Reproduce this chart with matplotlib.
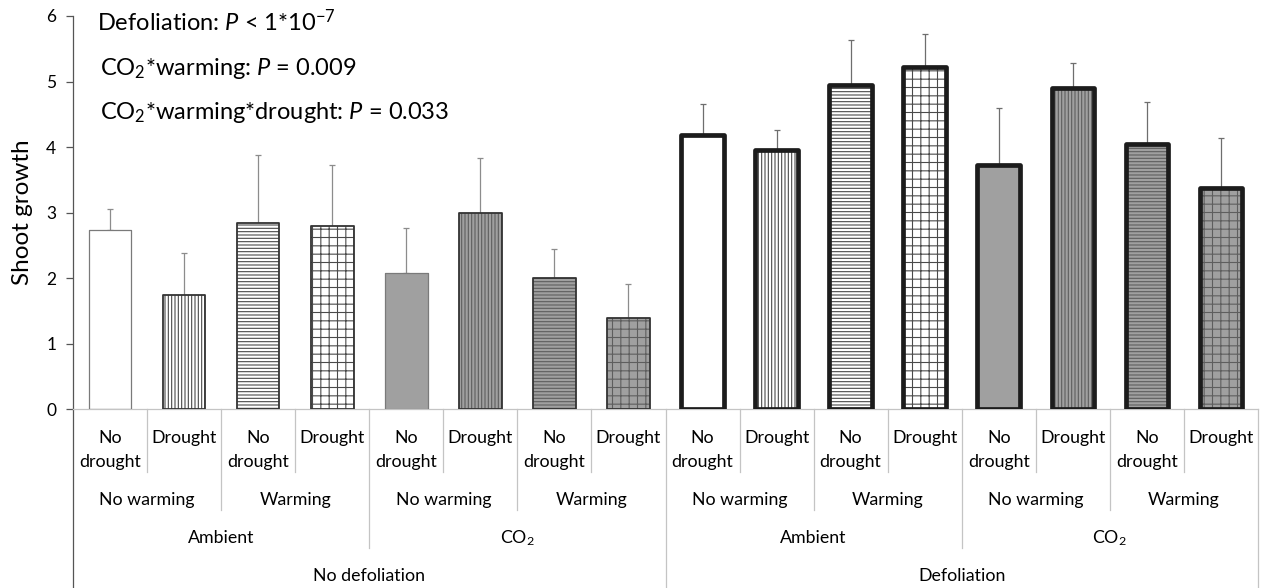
import numpy as np
import matplotlib
matplotlib.use('Agg')
import matplotlib.pyplot as plt
from matplotlib.transforms import blended_transform_factory

# bar values, order: defoliation > CO2 > warming > drought
means = [2.74, 1.75, 2.84, 2.80, 2.08, 3.00, 2.00, 1.40,
         4.19, 3.96, 4.95, 5.22, 3.73, 4.90, 4.05, 3.37]
upper = [3.05, 2.38, 3.88, 3.72, 2.77, 3.84, 2.44, 1.91,
         4.65, 4.26, 5.64, 5.73, 4.59, 5.28, 4.69, 4.14]

drought_labels = ['No\ndrought', 'Drought']
warming_labels = ['No warming', 'Warming']
co2_labels = ['Ambient', 'CO$_2$']
defol_labels = ['No defoliation', 'Defoliation']

yticks = [0, 1, 2, 3, 4, 5, 6]

notes = ['Defoliation: $\\mathit{P}$ < 1*10$^{\\mathregular{-7}}$',
         'CO$_2$*warming: $\\mathit{P}$ = 0.009',
         'CO$_2$*warming*drought: $\\mathit{P}$ = 0.033']

plt.rcParams['font.family'] = ['Lato', 'DejaVu Sans']
plt.rcParams['mathtext.fontset'] = 'custom'
plt.rcParams['mathtext.rm'] = 'Lato'
plt.rcParams['mathtext.it'] = 'Lato:italic'
plt.rcParams['mathtext.bf'] = 'Lato:bold'
plt.rcParams['hatch.linewidth'] = 0.8

W, H = 1263, 588
fig = plt.figure(figsize=(W / 100, H / 100), dpi=100)
x0, x1, ytop, ybot = 73, 1258, 16, 409.3
ax = fig.add_axes([x0 / W, 1 - ybot / H, (x1 - x0) / W, (ybot - ytop) / H])

n = len(means)
x = np.arange(n)
width = 0.575
hatches = ['', '|||||', '-----', '++']

idx_warm = (x // 2) % 2
idx_dry = x % 2
idx_co2 = (x // 4) % 2
idx_def = x // 8

means_a = np.array(means)
err_a = np.array(upper) - means_a

# error bars (upper only), drawn behind the bars
for d in (0, 1):
    sel = idx_def == d
    ax.errorbar(x[sel], means_a[sel], yerr=[np.zeros(sel.sum()), err_a[sel]],
                fmt='none', ecolor='#8c8c8c' if d == 0 else '#6e6e6e',
                elinewidth=0.9, capsize=2.2, capthick=0.9, zorder=1)

# fills + hatches
for i in range(n):
    fill = 'white' if idx_co2[i] == 0 else '#a0a0a0'
    hcol = '#4a4a4a' if idx_co2[i] == 0 else '#5e5e5e'
    ax.bar(x[i], means[i], width, color=fill, edgecolor=hcol, linewidth=0,
           hatch=hatches[idx_warm[i] * 2 + idx_dry[i]], zorder=2)

# outlines
for i in range(n):
    if idx_def[i] == 1:
        ec, lw = '#1c1c1c', 3.4
    elif idx_warm[i] == 0 and idx_dry[i] == 0:
        ec, lw = '#7a7a7a', 0.9
    else:
        ec, lw = '#333333', 1.3
    ax.bar(x[i], means[i], width, fill=False, edgecolor=ec, linewidth=lw,
           joinstyle='round', zorder=3)

ax.set_xlim(-0.5, n - 0.5)
ax.set_ylim(0, 6)
ax.set_yticks(yticks)
ax.set_xticks([])
ax.tick_params(axis='y', direction='out', length=5, width=0.9, colors='#555555',
               labelcolor='black', labelsize=12.5, pad=7)
for s in ('top', 'right'):
    ax.spines[s].set_visible(False)
ax.spines['left'].set_color('#555555')
ax.spines['left'].set_linewidth(0.9)
ax.spines['bottom'].set_color('#c4c4c4')
ax.spines['bottom'].set_linewidth(0.9)
ax.set_ylabel('Shoot growth', fontsize=17.5)
ax.yaxis.set_label_coords(-(73 - 33) / (x1 - x0), 0.5)

# significance notes
for txt, xp, yb in zip(notes, [97, 100, 100], [31, 75, 119]):
    fig.text(xp / W, 1 - yb / H, txt, fontsize=17, va='baseline', ha='left')

# multi-level category axis
tr = blended_transform_factory(ax.transData, fig.transFigure)
fy = lambda p: 1 - p / H
sep_col = '#c4c4c4'
fs = 12.8

for i in range(n):
    ax.text(x[i], fy(430), drought_labels[idx_dry[i]], transform=tr, ha='center',
            va='top', fontsize=fs, linespacing=1.6, clip_on=False)
for g in range(n // 2):
    ax.text(2 * g + 0.5, fy(505), warming_labels[g % 2], transform=tr,
            ha='center', va='baseline', fontsize=fs, clip_on=False)
for g in range(n // 4):
    ax.text(4 * g + 1.5, fy(543), co2_labels[g % 2], transform=tr,
            ha='center', va='baseline', fontsize=fs, clip_on=False)
for g in range(n // 8):
    ax.text(8 * g + 3.5, fy(581), defol_labels[g], transform=tr,
            ha='center', va='baseline', fontsize=fs, clip_on=False)

# separator lines below the axis
for b in range(n + 1):
    xb = b - 0.5
    if b % 8 == 0:
        yend = H
    elif b % 4 == 0:
        yend = 548
    elif b % 2 == 0:
        yend = 510
    else:
        yend = 472
    col = '#555555' if b == 0 else sep_col
    ax.plot([xb, xb], [fy(ybot), fy(yend)], transform=tr, color=col,
            linewidth=0.9, clip_on=False, zorder=0)

fig.savefig('out.png', dpi=100)
